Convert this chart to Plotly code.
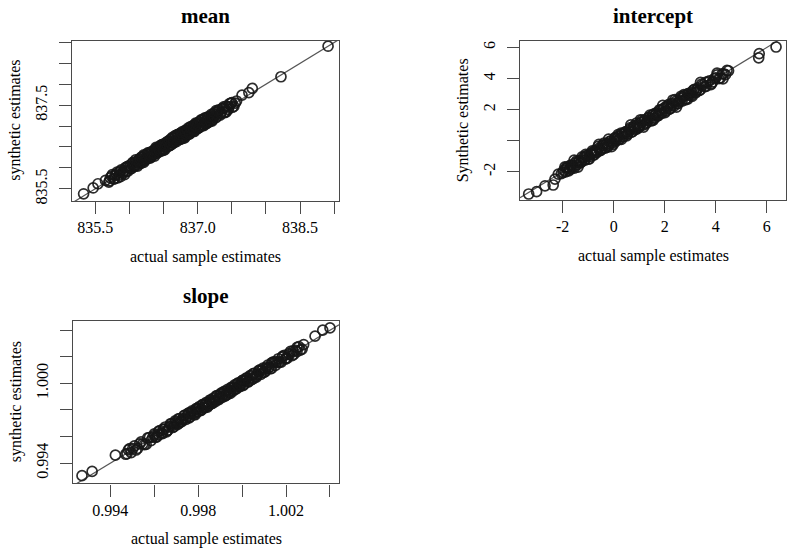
import plotly.graph_objects as go

# ---------------- data ----------------
mean_actual = [
    835.33, 835.47, 835.54, 835.65, 835.70, 835.74, 835.78, 835.81, 835.85, 835.88,
    835.91, 835.94, 835.96, 835.99, 836.02, 836.04, 836.07, 836.09, 836.11, 836.14,
    836.16, 836.18, 836.20, 836.22, 836.24, 836.26, 836.28, 836.30, 836.32, 836.34,
    836.36, 836.38, 836.40, 836.42, 836.44, 836.45, 836.47, 836.49, 836.51, 836.53,
    836.55, 836.56, 836.58, 836.60, 836.62, 836.64, 836.65, 836.67, 836.69, 836.71,
    836.73, 836.74, 836.76, 836.78, 836.80, 836.82, 836.84, 836.86, 836.88, 836.90,
    836.92, 836.94, 836.96, 836.98, 837.00, 837.02, 837.04, 837.06, 837.08, 837.11,
    837.13, 837.15, 837.17, 837.20, 837.22, 837.25, 837.27, 837.30, 837.33, 837.36,
    837.39, 837.42, 837.45, 837.49, 837.53, 837.57, 837.65, 837.75, 837.80, 838.22, 838.91,
    835.71, 835.75, 835.79, 835.83, 835.86, 835.90, 835.93, 835.97, 836.00, 836.03,
    836.05, 836.08, 836.10, 836.12, 836.13, 836.15, 836.17, 836.19, 836.21, 836.23,
    836.25, 836.27, 836.29, 836.31, 836.33, 836.35, 836.37, 836.39, 836.41, 836.43,
    836.46, 836.48, 836.50, 836.52, 836.54, 836.57, 836.59, 836.61, 836.63, 836.66,
    836.68, 836.70, 836.72, 836.75, 836.77, 836.79, 836.81, 836.83, 836.85, 836.87,
    836.89, 836.91, 836.93, 836.95, 836.97, 836.99, 837.01, 837.03, 837.05, 837.07,
    837.09, 837.10, 837.12, 837.14, 837.16, 837.18, 837.21, 837.23, 837.26, 837.28,
    837.31, 837.34, 837.37, 837.40, 837.44, 837.47, 837.51, 837.55,
    835.72, 835.77, 835.82, 835.87, 835.92, 835.95, 835.98, 836.01, 836.06, 836.09,
    836.12, 836.15, 836.18, 836.21, 836.24, 836.27, 836.30, 836.33, 836.36, 836.39,
    836.42, 836.44, 836.47, 836.50, 836.53, 836.56, 836.59, 836.62, 836.64, 836.67,
    836.70, 836.73, 836.76, 836.79, 836.82, 836.85, 836.88, 836.91, 836.94, 836.97,
    837.00, 837.03, 837.06, 837.09, 837.12, 837.15, 837.18, 837.21, 837.24, 837.27,
    837.30, 837.34, 837.38, 837.42, 837.46, 837.50]
mean_synthetic = [
    835.38, 835.52, 835.62, 835.70, 835.66, 835.80, 835.74, 835.86, 835.83, 835.95,
    835.87, 836.00, 835.92, 836.05, 835.98, 836.10, 836.03, 836.14, 836.06, 836.20,
    836.12, 836.25, 836.15, 836.29, 836.19, 836.33, 836.24, 836.37, 836.27, 836.40,
    836.32, 836.45, 836.35, 836.49, 836.39, 836.52, 836.41, 836.56, 836.46, 836.60,
    836.50, 836.63, 836.53, 836.68, 836.56, 836.72, 836.60, 836.75, 836.63, 836.80,
    836.68, 836.82, 836.70, 836.87, 836.74, 836.90, 836.78, 836.95, 836.81, 836.99,
    836.86, 837.02, 836.90, 837.06, 836.94, 837.10, 836.98, 837.14, 837.02, 837.19,
    837.06, 837.22, 837.10, 837.28, 837.15, 837.32, 837.20, 837.37, 837.26, 837.42,
    837.33, 837.48, 837.40, 837.55, 837.47, 837.60, 837.74, 837.80, 837.90, 838.18, 838.91,
    835.69, 835.84, 835.82, 835.76, 835.91, 835.89, 835.84, 836.03, 836.01, 835.98,
    836.13, 836.05, 836.14, 836.04, 836.15, 836.22, 836.11, 836.19, 836.31, 836.19,
    836.23, 836.36, 836.32, 836.24, 836.38, 836.34, 836.28, 836.45, 836.42, 836.38,
    836.54, 836.45, 836.54, 836.44, 836.56, 836.64, 836.53, 836.61, 836.73, 836.62,
    836.66, 836.79, 836.75, 836.68, 836.82, 836.78, 836.72, 836.89, 836.86, 836.82,
    836.97, 836.88, 836.97, 836.87, 836.99, 837.06, 836.95, 837.03, 837.15, 837.03,
    837.07, 837.19, 837.15, 837.07, 837.21, 837.17, 837.12, 837.29, 837.27, 837.23,
    837.39, 837.31, 837.41, 837.32, 837.46, 837.54, 837.45, 837.55,
    835.76, 835.73, 835.90, 835.79, 835.92, 836.01, 835.92, 836.03, 836.04, 836.19,
    836.16, 836.11, 836.26, 836.13, 836.24, 836.33, 836.24, 836.35, 836.34, 836.49,
    836.46, 836.40, 836.55, 836.42, 836.53, 836.62, 836.53, 836.64, 836.62, 836.77,
    836.74, 836.69, 836.84, 836.71, 836.82, 836.91, 836.82, 836.93, 836.92, 837.07,
    837.04, 836.99, 837.14, 837.01, 837.12, 837.21, 837.12, 837.23, 837.22, 837.37,
    837.34, 837.30, 837.46, 837.34, 837.46, 837.56]

intercept_actual = [
    -3.33, -3.02, -2.69, -2.37, -2.30, -2.17, -2.05, -1.95, -1.88, -1.80,
    -1.72, -1.65, -1.58, -1.50, -1.43, -1.35, -1.27, -1.20, -1.12, -1.03,
    -0.95, -0.88, -0.80, -0.72, -0.65, -0.57, -0.50, -0.42, -0.35, -0.27,
    -0.20, -0.12, -0.05, 0.03, 0.10, 0.18, 0.25, 0.32, 0.40, 0.47,
    0.55, 0.62, 0.70, 0.77, 0.85, 0.92, 1.00, 1.07, 1.15, 1.22,
    1.30, 1.37, 1.45, 1.52, 1.60, 1.67, 1.75, 1.82, 1.90, 1.97,
    2.05, 2.12, 2.20, 2.28, 2.36, 2.44, 2.52, 2.60, 2.68, 2.77,
    2.85, 2.94, 3.03, 3.12, 3.21, 3.30, 3.40, 3.50, 3.62, 3.75,
    3.88, 4.00, 4.12, 4.25, 4.38, 4.50, 5.68, 5.70, 6.36,
    -1.98, -1.91, -1.84, -1.76, -1.69, -1.61, -1.54, -1.46, -1.39, -1.31,
    -1.24, -1.16, -1.08, -0.99, -0.91, -0.84, -0.76, -0.68, -0.61, -0.53,
    -0.46, -0.38, -0.31, -0.23, -0.16, -0.08, -0.01, 0.07, 0.14, 0.21,
    0.29, 0.36, 0.44, 0.51, 0.59, 0.66, 0.74, 0.81, 0.89, 0.96,
    1.04, 1.11, 1.19, 1.26, 1.34, 1.41, 1.49, 1.56, 1.64, 1.71,
    1.79, 1.86, 1.94, 2.01, 2.09, 2.16, 2.24, 2.32, 2.40, 2.48,
    2.56, 2.64, 2.72, 2.81, 2.90, 2.98, 3.07, 3.16, 3.26, 3.35,
    3.45, 3.56, 3.68, 3.81, 3.94, 4.06, 4.18, 4.31, 4.44,
    -1.85, -1.70, -1.55, -1.40, -1.25, -1.10, -0.95, -0.82, -0.70, -0.58,
    -0.45, -0.33, -0.20, -0.08, 0.05, 0.17, 0.30, 0.42, 0.55, 0.67,
    0.80, 0.92, 1.05, 1.17, 1.30, 1.42, 1.55, 1.67, 1.80, 1.92,
    2.05, 2.18, 2.32, 2.46, 2.60, 2.75, 2.90, 3.06, 3.22, 3.40,
    3.60, 3.82, 4.05, 4.28]
intercept_synthetic = [
    -3.43, -3.28, -2.90, -2.85, -2.47, -2.15, -2.12, -1.90, -2.00, -1.72,
    -1.80, -1.58, -1.70, -1.42, -1.55, -1.30, -1.38, -1.10, -1.25, -0.95,
    -1.02, -0.80, -0.92, -0.62, -0.75, -0.48, -0.60, -0.30, -0.45, -0.18,
    -0.30, -0.02, -0.15, 0.15, -0.02, 0.28, 0.12, 0.42, 0.28, 0.58,
    0.42, 0.72, 0.55, 0.88, 0.72, 1.02, 0.88, 1.18, 1.00, 1.35,
    1.18, 1.50, 1.30, 1.65, 1.45, 1.80, 1.62, 1.95, 1.78, 2.10,
    1.92, 2.25, 2.05, 2.40, 2.22, 2.55, 2.38, 2.72, 2.55, 2.90,
    2.72, 3.05, 2.90, 3.25, 3.08, 3.40, 3.28, 3.60, 3.50, 3.85,
    3.78, 4.05, 4.00, 4.30, 4.25, 4.50, 5.33, 5.60, 6.03,
    -2.03, -1.69, -1.76, -1.94, -1.57, -1.63, -1.76, -1.31, -1.36, -1.43,
    -1.04, -1.24, -0.98, -1.19, -0.86, -0.66, -0.91, -0.68, -0.37, -0.63,
    -0.51, -0.16, -0.23, -0.41, -0.04, -0.10, -0.23, 0.22, 0.17, 0.09,
    0.49, 0.28, 0.54, 0.31, 0.64, 0.84, 0.59, 0.81, 1.13, 0.86,
    0.99, 1.33, 1.27, 1.08, 1.46, 1.39, 1.27, 1.71, 1.67, 1.59,
    1.99, 1.78, 2.04, 1.81, 2.14, 2.34, 2.09, 2.32, 2.64, 2.38,
    2.51, 2.86, 2.80, 2.63, 3.02, 2.96, 2.85, 3.31, 3.29, 3.23,
    3.65, 3.48, 3.78, 3.61, 3.99, 4.24, 4.03, 4.31, 4.52,
    -1.70, -1.85, -1.25, -1.70, -1.25, -0.88, -1.17, -0.75, -0.77, -0.23,
    -0.30, -0.48, 0.10, -0.38, 0.05, 0.39, 0.08, 0.49, 0.48, 1.02,
    0.95, 0.77, 1.35, 0.87, 1.30, 1.64, 1.33, 1.74, 1.73, 2.27,
    2.20, 2.03, 2.62, 2.16, 2.60, 2.97, 2.68, 3.13, 3.15, 3.75,
    3.75, 3.67, 4.35, 3.98]

slope_actual = [
    0.99271, 0.99317, 0.99423, 0.99470, 0.99482, 0.99495, 0.99510, 0.99525, 0.99540, 0.99555,
    0.99570, 0.99585, 0.99600, 0.99612, 0.99625, 0.99638, 0.99650, 0.99662, 0.99673, 0.99684,
    0.99695, 0.99705, 0.99715, 0.99725, 0.99735, 0.99745, 0.99754, 0.99763, 0.99772, 0.99781,
    0.99790, 0.99798, 0.99806, 0.99814, 0.99822, 0.99830, 0.99838, 0.99846, 0.99854, 0.99862,
    0.99870, 0.99878, 0.99886, 0.99894, 0.99902, 0.99910, 0.99918, 0.99926, 0.99934, 0.99942,
    0.99950, 0.99958, 0.99966, 0.99974, 0.99982, 0.99991, 1.00000, 1.00009, 1.00018, 1.00027,
    1.00036, 1.00045, 1.00055, 1.00065, 1.00075, 1.00085, 1.00095, 1.00106, 1.00117, 1.00128,
    1.00140, 1.00152, 1.00165, 1.00178, 1.00192, 1.00206, 1.00220, 1.00235, 1.00250, 1.00265,
    1.00280, 1.00332, 1.00367, 1.00400,
    0.99476, 0.99488, 0.99502, 0.99517, 0.99533, 0.99548, 0.99563, 0.99578, 0.99593, 0.99606,
    0.99619, 0.99632, 0.99644, 0.99656, 0.99668, 0.99679, 0.99690, 0.99700, 0.99710, 0.99720,
    0.99730, 0.99740, 0.99750, 0.99759, 0.99768, 0.99777, 0.99786, 0.99794, 0.99802, 0.99810,
    0.99818, 0.99826, 0.99834, 0.99842, 0.99850, 0.99858, 0.99866, 0.99874, 0.99882, 0.99890,
    0.99898, 0.99906, 0.99914, 0.99922, 0.99930, 0.99938, 0.99946, 0.99954, 0.99962, 0.99970,
    0.99978, 0.99986, 0.99995, 1.00004, 1.00013, 1.00022, 1.00031, 1.00040, 1.00050, 1.00060,
    1.00070, 1.00080, 1.00090, 1.00100, 1.00111, 1.00122, 1.00134, 1.00146, 1.00158, 1.00171,
    1.00185, 1.00199, 1.00213, 1.00228, 1.00243, 1.00258, 1.00273,
    0.99600, 0.99620, 0.99640, 0.99660, 0.99678, 0.99696, 0.99712, 0.99728, 0.99744, 0.99758,
    0.99772, 0.99786, 0.99800, 0.99812, 0.99824, 0.99836, 0.99848, 0.99860, 0.99872, 0.99884,
    0.99896, 0.99908, 0.99920, 0.99932, 0.99944, 0.99956, 0.99968, 0.99980, 0.99992, 1.00004,
    1.00016, 1.00028, 1.00040, 1.00053, 1.00066, 1.00079, 1.00092, 1.00106, 1.00120, 1.00135,
    1.00150, 1.00166, 1.00182, 1.00198, 1.00215, 1.00232, 1.00250]
slope_synthetic = [
    0.99306, 0.99338, 0.99460, 0.99467, 0.99500, 0.99480, 0.99530, 0.99512, 0.99560, 0.99540,
    0.99590, 0.99570, 0.99620, 0.99598, 0.99645, 0.99622, 0.99672, 0.99648, 0.99695, 0.99668,
    0.99718, 0.99690, 0.99735, 0.99712, 0.99758, 0.99730, 0.99775, 0.99748, 0.99793, 0.99765,
    0.99810, 0.99785, 0.99826, 0.99800, 0.99842, 0.99815, 0.99858, 0.99832, 0.99875, 0.99848,
    0.99890, 0.99862, 0.99906, 0.99878, 0.99922, 0.99895, 0.99940, 0.99910, 0.99955, 0.99928,
    0.99970, 0.99942, 0.99988, 0.99958, 1.00004, 0.99975, 1.00020, 0.99992, 1.00040, 1.00010,
    1.00058, 1.00030, 1.00075, 1.00048, 1.00095, 1.00068, 1.00115, 1.00090, 1.00138, 1.00110,
    1.00160, 1.00135, 1.00185, 1.00160, 1.00210, 1.00190, 1.00240, 1.00218, 1.00270, 1.00250,
    1.00292, 1.00355, 1.00400, 1.00417,
    0.99471, 0.99510, 0.99510, 0.99499, 0.99545, 0.99546, 0.99541, 0.99593, 0.99596, 0.99594,
    0.99639, 0.99624, 0.99654, 0.99636, 0.99673, 0.99697, 0.99675, 0.99700, 0.99734, 0.99710,
    0.99725, 0.99762, 0.99758, 0.99741, 0.99780, 0.99775, 0.99764, 0.99809, 0.99805, 0.99798,
    0.99838, 0.99818, 0.99844, 0.99822, 0.99855, 0.99876, 0.99851, 0.99874, 0.99906, 0.99880,
    0.99893, 0.99928, 0.99922, 0.99904, 0.99942, 0.99936, 0.99924, 0.99969, 0.99965, 0.99958,
    0.99998, 0.99978, 1.00005, 0.99984, 1.00018, 1.00040, 1.00016, 1.00040, 1.00074, 1.00050,
    1.00065, 1.00102, 1.00098, 1.00082, 1.00123, 1.00120, 1.00112, 1.00161, 1.00161, 1.00159,
    1.00205, 1.00191, 1.00223, 1.00208, 1.00248, 1.00276, 1.00258,
    0.99608, 0.99612, 0.99656, 0.99644, 0.99678, 0.99708, 0.99700, 0.99732, 0.99740, 0.99778,
    0.99780, 0.99778, 0.99816, 0.99796, 0.99824, 0.99848, 0.99836, 0.99864, 0.99868, 0.99904,
    0.99904, 0.99900, 0.99936, 0.99916, 0.99944, 0.99968, 0.99956, 0.99984, 0.99988, 1.00024,
    1.00024, 1.00020, 1.00056, 1.00037, 1.00066, 1.00091, 1.00080, 1.00110, 1.00116, 1.00155,
    1.00158, 1.00158, 1.00198, 1.00182, 1.00215, 1.00244, 1.00238]

panel_titles = ["mean", "intercept", "slope"]
x_titles = ["actual sample estimates"] * 3
y_titles = ["synthetic estimates", "Synthetic estimates", "synthetic estimates"]

mean_xticks = [835.5, 836.0, 836.5, 837.0, 837.5, 838.0, 838.5, 839.0]
mean_xlabels = ["835.5", "", "", "837.0", "", "", "838.5", ""]
mean_yticks = [835.5, 836.0, 836.5, 837.0, 837.5, 838.0, 838.5, 839.0]
mean_ylabels = ["835.5", "", "", "", "837.5", "", "", ""]

intercept_xticks = [-2, 0, 2, 4, 6]
intercept_xlabels = ["-2", "0", "2", "4", "6"]
intercept_yticks = [-2, 0, 2, 4, 6]
intercept_ylabels = ["-2", "", "2", "4", "6"]

slope_xticks = [0.994, 0.996, 0.998, 1.000, 1.002, 1.004]
slope_xlabels = ["0.994", "", "0.998", "", "1.002", ""]
slope_yticks = [0.994, 0.996, 0.998, 1.000, 1.002, 1.004]
slope_ylabels = ["0.994", "", "", "1.000", "", ""]

# ---------------- layout geometry (window pixels) ----------------
W, H = 800, 557
FONT = "Liberation Serif, Times New Roman, serif"
AX = "#4a4a4a"


def fx(p):
    return p / W


def fy(p):
    return 1 - p / H


panels = [
    dict(x=mean_actual, y=mean_synthetic, box=(72, 41, 339, 202),
         xr=[835.16, 839.07], yr=[835.21, 839.04],
         xt=mean_xticks, xl=mean_xlabels, yt=mean_yticks, yl=mean_ylabels),
    dict(x=intercept_actual, y=intercept_synthetic, box=(520, 41, 786, 201),
         xr=[-3.67, 6.75], yr=[-3.81, 6.43],
         xt=intercept_xticks, xl=intercept_xlabels, yt=intercept_yticks, yl=intercept_ylabels),
    dict(x=slope_actual, y=slope_synthetic, box=(73, 323, 339, 486),
         xr=[0.99230, 1.00441], yr=[0.99248, 1.00467],
         xt=slope_xticks, xl=slope_xlabels, yt=slope_yticks, yl=slope_ylabels),
]

fig = go.Figure()
layout = dict(
    width=W, height=H, margin=dict(l=0, r=0, t=0, b=0),
    paper_bgcolor="white", plot_bgcolor="white", showlegend=False,
    font=dict(family=FONT, color="black", size=16),
)
annotations = []

for i, p in enumerate(panels):
    k = "" if i == 0 else str(i + 1)
    x0, y0, x1, y1 = p["box"]
    # reference line y = x
    fig.add_trace(go.Scatter(
        x=p["xr"], y=p["xr"], mode="lines",
        line=dict(color="#555555", width=1.2),
        xaxis="x" + k, yaxis="y" + k, hoverinfo="skip"))
    fig.add_trace(go.Scatter(
        x=p["x"], y=p["y"], mode="markers",
        marker=dict(symbol="circle-open", size=10, color="rgba(22,22,22,0.9)",
                    line=dict(width=1.7)),
        xaxis="x" + k, yaxis="y" + k))
    common = dict(showline=True, mirror=True, linecolor=AX, linewidth=1.3,
                  ticks="outside", ticklen=12, tickwidth=1.2, tickcolor=AX,
                  showgrid=False, zeroline=False,
                  tickfont=dict(family=FONT, size=16, color="black"))
    layout["xaxis" + k] = dict(common, domain=[fx(x0), fx(x1)], range=p["xr"],
                               anchor="y" + k, tickvals=p["xt"], ticktext=p["xl"],
                               tickangle=0)
    layout["yaxis" + k] = dict(common, domain=[fy(y1), fy(y0)], range=p["yr"],
                               anchor="x" + k, tickvals=p["yt"], ticktext=p["yl"],
                               tickangle=-90, ticklabelstandoff=5)
    cx = (x0 + x1) / 2
    annotations.append(dict(text="<b>" + panel_titles[i] + "</b>", x=fx(cx),
                            y=fy(y0 - 25), xref="paper", yref="paper",
                            showarrow=False, xanchor="center", yanchor="middle",
                            font=dict(family=FONT, size=21, color="black")))
    annotations.append(dict(text=x_titles[i], x=fx(cx), y=fy(y1 + 56),
                            xref="paper", yref="paper", showarrow=False,
                            xanchor="center", yanchor="middle",
                            font=dict(family=FONT, size=16, color="black")))
    annotations.append(dict(text=y_titles[i], x=fx(x0 - 57), y=fy((y0 + y1) / 2),
                            xref="paper", yref="paper", showarrow=False, textangle=-90,
                            xanchor="center", yanchor="middle",
                            font=dict(family=FONT, size=16, color="black")))

layout["annotations"] = annotations
fig.update_layout(**layout)
fig.write_html("out.html", config={"displayModeBar": False},
               post_script="document.body.style.margin='0';")
